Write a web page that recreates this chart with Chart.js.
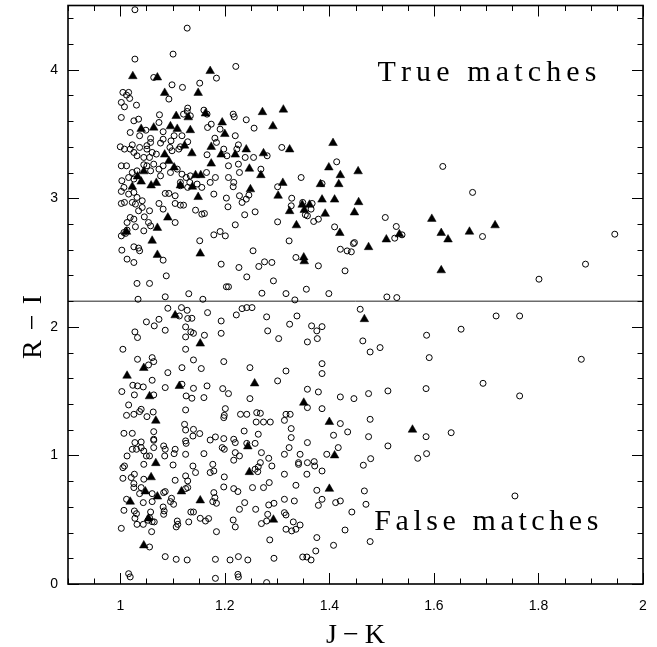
<!DOCTYPE html>
<html><head><meta charset="utf-8">
<script src="https://cdn.jsdelivr.net/npm/chart.js@4.4.1/dist/chart.umd.min.js"></script>
<style>html,body{margin:0;padding:0;background:#fff}#wrap{width:657px;height:647px;position:relative}</style>
</head><body><div id="wrap"><canvas id="c"></canvas></div>
<script>
// ---- axes ----
const xRange = [0.9, 2.0];
const yRange = [0, 4.5];
const xTickValues = [1, 1.2, 1.4, 1.6, 1.8, 2];
const yTickValues = [0, 1, 2, 3, 4];
const xTitle = 'J\u2212K';
const yTitle = 'R\u2212I';
const cutLevel = 2.2;
const upperLabel = 'True matches';
const lowerLabel = 'False matches';

// ---- open circles [J-K, R-I] ----
const openPoints = [
[1.028,4.467],[1.128,4.324],[1.101,4.122],[1.028,4.083],[1.221,4.026],[1.064,3.94],[1.184,3.935],[1.099,3.883],[1.119,3.863],[1.152,3.896],[1.005,3.824],[1.016,3.824],[1.012,3.803],[1.018,3.777],[1.093,3.772],[1.002,3.746],[1.008,3.712],[1.031,3.725],[1.002,3.629],[1.026,3.603],[1.035,3.616],[1.075,3.65],[1.074,3.59],[1.129,3.702],[1.128,3.676],[1.121,3.655],[1.134,3.642],[1.16,3.686],[1.166,3.655],[1.216,3.655],[1.218,3.634],[1.241,3.611],[1.256,3.546],[1.174,3.577],[1.167,3.551],[1.191,3.538],[1.049,3.53],[1.037,3.487],[1.019,3.512],[1.082,3.518],[1.103,3.487],[1.082,3.46],[1.058,3.466],[1.058,3.435],[1.051,3.41],[1.077,3.43],[1.097,3.447],[1.118,3.487],[1.115,3.401],[1.129,3.44],[1.22,3.487],[1.181,3.468],[1.184,3.435],[1.226,3.416],[1.223,3.383],[1.0,3.401],[1.008,3.383],[1.023,3.416],[1.019,3.383],[1.026,3.357],[1.037,3.396],[1.051,3.383],[1.061,3.357],[1.069,3.344],[1.095,3.396],[1.099,3.37],[1.112,3.383],[1.198,3.383],[1.204,3.331],[1.166,3.339],[1.239,3.318],[1.255,3.318],[1.281,3.331],[1.045,3.318],[1.032,3.331],[1.056,3.318],
[1.002,3.253],[1.012,3.253],[1.045,3.261],[1.051,3.253],[1.064,3.266],[1.074,3.227],[1.077,3.175],[1.058,3.214],[1.023,3.201],[1.032,3.214],[1.082,3.253],[1.096,3.201],[1.109,3.227],[1.118,3.188],[1.126,3.162],[1.134,3.175],[1.165,3.201],[1.172,3.124],[1.182,3.162],[1.207,3.253],[1.207,3.162],[1.217,3.124],[1.216,3.09],[1.226,3.266],[1.269,3.227],[1.228,3.201],[1.003,3.137],[1.007,3.085],[1.016,3.162],[1.026,3.15],[1.002,3.054],[1.016,3.033],[1.026,3.046],[1.032,3.007],[1.042,2.981],[1.023,2.968],[1.029,2.955],[1.002,2.96],[1.008,2.968],[1.042,2.929],[1.035,2.903],[1.056,2.903],[1.046,2.856],[1.019,2.851],[1.026,2.838],[1.013,2.812],[1.054,2.812],[1.058,2.786],[1.029,2.779],[1.045,2.747],[1.013,2.753],[1.007,2.734],[1.002,2.708],[1.01,2.727],[1.003,2.597],[1.026,2.623],[1.035,2.613],[1.037,2.592],[1.013,2.527],[1.026,2.501],[1.082,2.519],[1.074,2.96],[1.082,2.916],[1.086,3.038],[1.093,3.038],[1.105,3.02],[1.105,2.96],[1.115,2.947],[1.121,2.947],[1.115,3.098],[1.129,3.085],[1.133,3.124],[1.147,3.111],[1.115,3.124],[1.156,3.085],[1.179,3.033],[1.203,3.002],[1.206,2.934],[1.228,3.02],[1.233,2.968],[1.241,2.994],[1.246,3.025],[1.258,2.895],[1.238,2.872],[1.156,2.877],[1.161,2.882],[1.144,2.908],[1.22,2.794],[1.105,2.812],[1.191,2.742],[1.201,2.708],[1.179,2.716],[1.152,2.67],[1.254,2.592],[1.276,2.506],[1.29,2.501],[1.265,2.47],[1.227,2.462],[1.193,2.488],[1.088,2.397],[1.242,2.389],[1.293,2.358],[1.032,2.338],[1.056,2.338],[1.203,2.312],[1.207,2.312],[1.271,2.262],[1.034,2.215],[1.086,2.234],[1.131,2.258],[1.158,2.215],
[1.309,3.396],[1.414,3.284],[1.617,3.248],[1.346,3.162],[1.301,3.09],[1.386,3.115],[1.328,3.001],[1.327,2.942],[1.349,2.968],[1.367,2.96],[1.354,2.872],[1.358,2.864],[1.365,2.916],[1.37,2.82],[1.379,2.838],[1.301,2.817],[1.41,2.778],[1.507,2.851],[1.528,2.781],[1.525,2.69],[1.539,2.716],[1.323,2.669],[1.448,2.656],[1.446,2.648],[1.421,2.604],[1.434,2.591],[1.442,2.584],[1.336,2.54],[1.379,2.475],[1.43,2.436],[1.317,2.259],[1.356,2.293],[1.399,2.259],[1.334,2.21],[1.51,2.233],[1.529,2.228],
[1.674,3.046],[1.693,2.703],[1.801,2.371],[1.89,2.488],[1.946,2.721],
[1.091,2.145],[1.117,2.15],[1.128,2.129],[1.113,2.085],[1.167,2.111],[1.129,2.065],[1.137,2.067],[1.074,2.059],[1.05,2.039],[1.065,2.008],[1.086,1.974],[1.125,2.0],[1.193,2.046],[1.222,2.093],[1.233,2.142],[1.242,2.15],[1.028,1.961],[1.033,1.917],[1.135,1.961],[1.14,1.95],[1.161,1.935],[1.125,1.922],[1.193,1.95],[1.005,1.826],[1.125,1.826],[1.061,1.761],[1.033,1.748],[1.064,1.73],[1.054,1.704],[1.14,1.743],[1.118,1.683],[1.155,1.676],[1.198,1.73],[1.248,1.683],[1.091,1.644],[1.061,1.585],[1.024,1.546],[1.033,1.541],[1.044,1.533],[1.003,1.497],[1.027,1.471],[1.064,1.471],[1.086,1.528],[1.118,1.554],[1.14,1.522],[1.166,1.541],[1.196,1.52],[1.207,1.481],[1.126,1.463],[1.137,1.445],[1.16,1.45],[1.248,1.442],[1.016,1.393],[1.012,1.312],[1.026,1.32],[1.04,1.359],[1.037,1.341],[1.063,1.338],[1.051,1.302],[1.125,1.354],[1.201,1.364],[1.199,1.312],[1.198,1.294],[1.23,1.32],[1.242,1.32],[1.123,1.242],[1.125,1.198],[1.14,1.203],[1.152,1.17],[1.139,1.151],[1.007,1.172],[1.023,1.172],[1.064,1.185],[1.064,1.126],[1.064,1.118],[1.028,1.1],[1.04,1.105],[1.083,1.074],[1.125,1.113],[1.126,1.094],[1.172,1.12],[1.182,1.144],[1.198,1.131],[1.217,1.126],[1.22,1.1],[1.237,1.19],[1.242,1.094],
[1.013,0.996],[1.023,1.048],[1.031,1.048],[1.04,1.061],[1.045,1.035],[1.05,0.996],[1.056,0.996],[1.064,1.061],[1.086,1.048],[1.085,0.996],[1.105,1.048],[1.103,1.014],[1.125,1.009],[1.16,1.014],[1.195,1.061],[1.199,1.048],[1.22,1.022],[1.228,0.996],[1.217,0.963],[1.045,0.931],[1.101,0.926],[1.139,0.918],[1.144,0.867],[1.172,0.867],[1.177,0.931],[1.179,0.879],[1.199,0.833],[1.005,0.905],[1.008,0.918],[1.005,0.822],[1.021,0.828],[1.027,0.854],[1.026,0.781],[1.026,0.75],[1.04,0.75],[1.045,0.815],[1.037,0.703],[1.061,0.703],[1.044,0.633],[1.061,0.641],[1.083,0.711],[1.086,0.719],[1.098,0.667],[1.102,0.62],[1.082,0.599],[1.084,0.568],[1.083,0.542],[1.096,0.641],[1.105,0.807],[1.125,0.841],[1.129,0.802],[1.125,0.742],[1.129,0.75],[1.179,0.711],[1.181,0.672],[1.177,0.641],[1.184,0.628],[1.198,0.755],[1.217,0.742],[1.225,0.719],[1.238,0.633],[1.228,0.581],[1.135,0.56],[1.14,0.56],[1.153,0.511],[1.163,0.49],[1.169,0.509],[1.131,0.483],[1.109,0.49],[1.11,0.464],[1.107,0.444],[1.012,0.659],[1.007,0.573],[1.027,0.568],[1.031,0.547],[1.028,0.511],[1.058,0.56],[1.056,0.516],[1.053,0.496],[1.061,0.485],[1.044,0.464],[1.032,0.464],[1.002,0.433],[1.06,0.407],[1.065,0.483],[1.184,0.407],[1.216,0.498],[1.22,0.444],[1.056,0.288],[1.086,0.213],[1.107,0.192],[1.128,0.187],[1.182,0.192],[1.21,0.187],[1.226,0.213],[1.244,0.187],[1.016,0.08],[1.019,0.055],[1.182,0.044],[1.225,0.075],[1.226,0.055],
[1.252,2.15],[1.28,2.078],[1.338,2.085],[1.324,2.021],[1.282,1.969],[1.303,1.909],[1.358,1.883],[1.366,2.008],[1.376,1.969],[1.386,2.002],[1.377,1.909],[1.459,2.137],[1.464,1.891],[1.478,1.805],[1.497,1.839],[1.586,1.935],[1.591,1.761],[1.317,1.657],[1.301,1.58],[1.386,1.714],[1.386,1.637],[1.358,1.515],[1.379,1.494],[1.421,1.455],[1.447,1.442],[1.475,1.481],[1.512,1.502],[1.585,1.52],[1.358,1.372],[1.386,1.364],[1.261,1.333],[1.268,1.328],[1.317,1.32],[1.325,1.32],[1.314,1.273],[1.26,1.26],[1.274,1.26],[1.287,1.26],[1.327,1.209],[1.327,1.139],[1.421,1.248],[1.435,1.183],[1.478,1.281],[1.408,1.157],[1.475,1.146],[1.585,1.146],[1.264,1.165],[1.258,1.094],[1.358,1.1],[1.512,1.074],
[1.27,1.022],[1.284,0.978],[1.29,0.918],[1.268,0.944],[1.264,0.911],[1.258,0.893],[1.263,0.874],[1.314,1.009],[1.323,1.061],[1.344,1.009],[1.341,0.944],[1.341,0.931],[1.358,0.944],[1.371,0.952],[1.372,0.918],[1.386,0.879],[1.357,0.854],[1.395,1.009],[1.417,1.061],[1.314,0.854],[1.285,0.789],[1.274,0.75],[1.253,0.75],[1.336,0.768],[1.376,0.729],[1.386,0.659],[1.379,0.612],[1.412,0.633],[1.421,0.646],[1.467,0.724],[1.47,0.62],[1.465,0.924],[1.479,0.975],[1.569,0.978],[1.586,1.014],[1.259,0.581],[1.284,0.615],[1.294,0.628],[1.314,0.659],[1.333,0.646],[1.282,0.542],[1.28,0.49],[1.27,0.47],[1.314,0.555],[1.317,0.537],[1.331,0.483],[1.344,0.459],[1.336,0.426],[1.328,0.413],[1.317,0.426],[1.443,0.56],[1.43,0.42],[1.376,0.361],[1.408,0.301],[1.478,0.33],[1.374,0.257],[1.286,0.343],[1.294,0.2],[1.349,0.21],[1.357,0.21],[1.365,0.187],[1.28,0.011],
[1.719,2.085],[1.764,2.085],[1.652,1.982],[1.882,1.748],[1.694,1.561],[1.764,1.463],[1.633,1.177],[1.755,0.685]
];

// ---- filled triangles [J-K, R-I] ----
const filledPoints = [
[1.024,3.95],[1.071,3.94],[1.085,3.82],[1.149,3.82],[1.172,3.99],[1.107,3.64],[1.13,3.63],[1.096,3.56],[1.109,3.54],[1.134,3.53],[1.064,3.55],[1.04,3.54],[1.163,3.66],[1.195,3.59],[1.2,3.5],[1.272,3.67],[1.292,3.56],[1.241,3.38],[1.274,3.35],[1.123,3.41],[1.137,3.35],[1.085,3.34],[1.174,3.4],[1.193,3.34],[1.22,3.34],[1.093,3.29],[1.103,3.24],[1.174,3.27],[1.045,3.21],[1.247,3.23],[1.269,3.18],[1.033,3.17],[1.04,3.13],[1.059,3.1],[1.023,3.09],[1.069,3.12],[1.144,3.18],[1.154,3.18],[1.115,3.1],[1.138,3.09],[1.149,3.01],[1.249,3.07],[1.302,3.02],[1.091,2.85],[1.071,2.77],[1.012,2.74],[1.061,2.67],[1.071,2.56],[1.153,2.57],
[1.312,3.69],[1.324,3.38],[1.407,3.43],[1.399,3.24],[1.421,3.18],[1.455,3.21],[1.311,3.12],[1.383,3.11],[1.418,3.11],[1.386,2.99],[1.41,2.99],[1.456,2.97],[1.348,2.95],[1.362,2.95],[1.324,2.9],[1.352,2.91],[1.392,2.88],[1.448,2.89],[1.337,2.79],[1.42,2.73],[1.509,2.68],[1.534,2.72],[1.475,2.62],[1.596,2.84],[1.614,2.73],[1.627,2.68],[1.668,2.74],[1.614,2.44],[1.351,2.54],[1.352,2.51],[1.717,2.79],
[1.105,2.09],[1.153,1.87],[1.045,1.68],[1.013,1.62],[1.113,1.54],[1.056,1.46],[1.068,1.27],[1.068,0.94],[1.059,0.83],[1.048,0.72],[1.071,0.68],[1.019,0.64],[1.117,0.72],[1.153,0.65],[1.054,0.51],[1.045,0.3],[1.244,1.07],[1.247,0.87],[1.467,2.06],[1.257,1.56],[1.351,1.41],[1.4,1.26],[1.559,1.2],[1.41,1.0],[1.4,0.74],[1.293,0.5]
];

// text anchors in data units
const upperLabelPos = [1.492, 3.91];
const lowerLabelPos = [1.486, 0.42];

const SANS = "'Liberation Sans', Arial, Helvetica, sans-serif";
const SERIF = "'Liberation Serif', 'Times New Roman', serif";

function drawSpaced(ctx, text, x, y, targetW, align){
  const chars = Array.from(text);
  const widths = chars.map(c => ctx.measureText(c).width);
  const natural = widths.reduce((a,b)=>a+b,0);
  const sp = chars.length > 1 ? (targetW - natural)/(chars.length-1) : 0;
  let cx = align === 'center' ? x - targetW/2 : x;
  ctx.textAlign = 'left';
  chars.forEach((c,i)=>{ ctx.fillText(c, cx, y); cx += widths[i] + sp; });
}

const framePlugin = {
  id: 'framePlugin',
  afterDraw(chart){
    const {ctx, chartArea:a, scales:{x, y}} = chart;
    ctx.save();
    ctx.strokeStyle = '#000';
    ctx.lineWidth = 1.6;
    ctx.strokeRect(a.left, a.top, a.right - a.left, a.bottom - a.top);
    ctx.lineWidth = 1;
    ctx.beginPath();
    for (let i = 18; i <= 40; i++){
      const v = i*0.05; const px = Math.round(x.getPixelForValue(v)) + 0.5;
      const L = (i % 4 === 0) ? 11 : 5.5;
      ctx.moveTo(px, a.bottom); ctx.lineTo(px, a.bottom - L);
      ctx.moveTo(px, a.top); ctx.lineTo(px, a.top + L);
    }
    for (let i = 0; i <= 22; i++){
      const v = i*0.2; const py = Math.round(y.getPixelForValue(v)) + 0.5;
      const L = (i % 5 === 0) ? 11 : 5.5;
      ctx.moveTo(a.left, py); ctx.lineTo(a.left + L, py);
      ctx.moveTo(a.right, py); ctx.lineTo(a.right - L, py);
    }
    ctx.stroke();

    ctx.fillStyle = '#000';
    ctx.textBaseline = 'alphabetic';
    ctx.font = '30px ' + SERIF;
    drawSpaced(ctx, upperLabel, x.getPixelForValue(upperLabelPos[0]), y.getPixelForValue(upperLabelPos[1]), 219, 'left');
    drawSpaced(ctx, lowerLabel, x.getPixelForValue(lowerLabelPos[0]), y.getPixelForValue(lowerLabelPos[1]), 224, 'left');

    ctx.font = '28px ' + SERIF;
    drawSpaced(ctx, xTitle, (a.left + a.right)/2, 643, 59, 'center');
    ctx.translate(41, 327);
    ctx.rotate(-Math.PI/2);
    drawSpaced(ctx, yTitle, 0, 0, 64, 'center');
    ctx.restore();
  }
};

new Chart(document.getElementById('c'), {
  type: 'scatter',
  data: {
    datasets: [
      { label: 'filled', data: filledPoints.map(p=>({x:p[0], y:p[1]})), pointStyle: 'triangle', pointRadius: 5, pointBackgroundColor: '#000', pointBorderColor: '#000', pointBorderWidth: 0.5 },
      { label: 'open', data: openPoints.map(p=>({x:p[0], y:p[1]})), pointStyle: 'circle', pointRadius: 3, pointBackgroundColor: 'rgba(0,0,0,0)', pointBorderColor: '#000', pointBorderWidth: 1 },
      { type: 'line', label: 'cut', data: [{x:xRange[0], y:cutLevel},{x:xRange[1], y:cutLevel}], borderColor: '#222', borderWidth: 1, pointRadius: 0, fill: false }
    ]
  },
  options: {
    responsive: true, maintainAspectRatio: false, animation: false,
    layout: { padding: { top: 5, right: 14, left: 0, bottom: 0 } },
    plugins: { legend: { display: false }, tooltip: { enabled: false } },
    scales: {
      x: {
        type: 'linear', min: xRange[0], max: xRange[1],
        afterBuildTicks: s => { s.ticks = xTickValues.map(v => ({value: v})); },
        afterFit: s => { s.height = 63; s.paddingLeft = 0; s.paddingRight = 0; },
        grid: { display: false, drawTicks: false }, border: { display: false },
        ticks: { autoSkip: false, maxRotation: 0, padding: 14, color: '#000', font: { family: SANS, size: 14 }, callback: v => String(v) }
      },
      y: {
        type: 'linear', min: yRange[0], max: yRange[1],
        afterBuildTicks: s => { s.ticks = yTickValues.map(v => ({value: v})); },
        afterFit: s => { s.width = 68; s.paddingTop = 0; s.paddingBottom = 0; },
        grid: { display: false, drawTicks: false }, border: { display: false },
        ticks: { padding: 10, color: '#000', font: { family: SANS, size: 14 }, callback: v => String(v) }
      }
    }
  },
  plugins: [framePlugin]
});
</script>
</body></html>
